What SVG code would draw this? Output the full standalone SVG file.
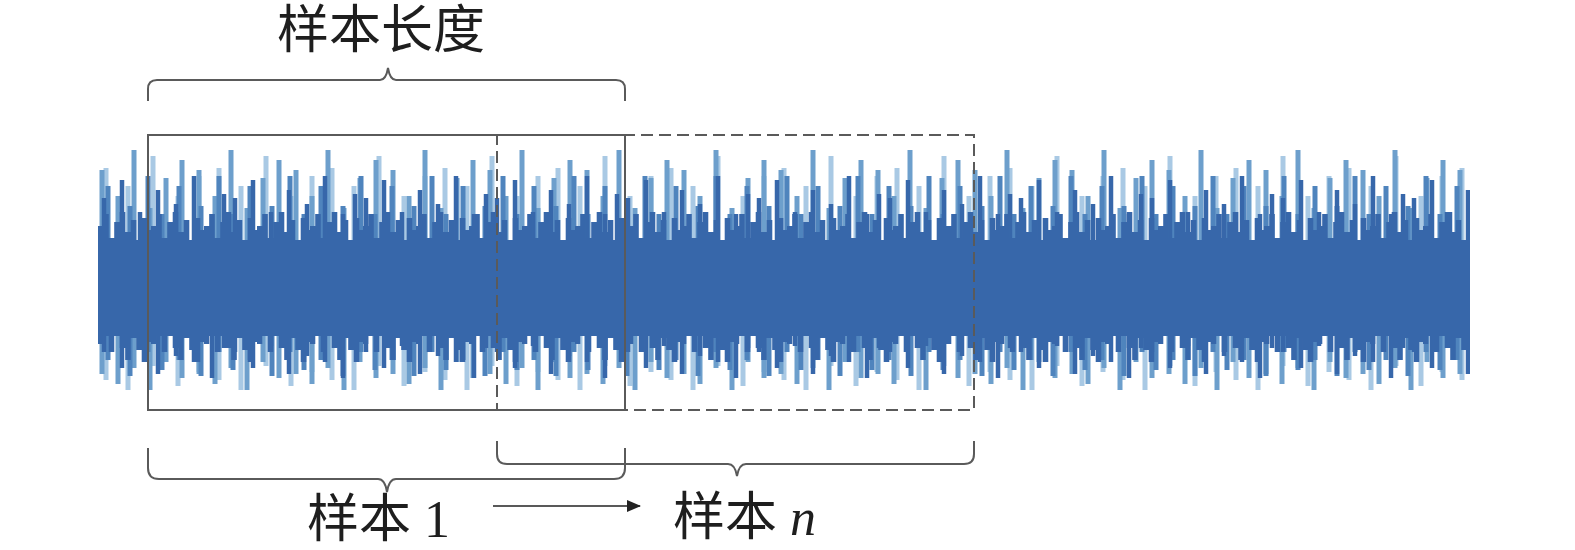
<svg xmlns="http://www.w3.org/2000/svg" width="1575" height="550" viewBox="0 0 1575 550">
<style>
.frame{fill:none;stroke:#5a5a5a;stroke-width:2}
.brace{fill:none;stroke:#5a5a5a;stroke-width:2}
.cn{font-family:"Liberation Serif","Noto Sans CJK SC",serif;font-size:52px;fill:#1e1e1e}
.lat{font-family:"Liberation Serif",serif;font-size:52px;fill:#1e1e1e}
</style>
<defs>
<pattern id="p4" patternUnits="userSpaceOnUse" x="98" y="0" width="113" height="550"><path d="M8 168V380M30 186V390M55 156V366M80 196V386M101 176V372" stroke="#a9c9e4" stroke-width="5"/></pattern>
<pattern id="p1" patternUnits="userSpaceOnUse" x="98" y="0" width="97" height="550"><path d="M4 170V374M20 196V384M36 150V368M52 208V390M68 178V362M84 160V378" stroke="#6d9fcc" stroke-width="5"/></pattern>
<pattern id="p3" patternUnits="userSpaceOnUse" x="98" y="0" width="71" height="550"><path d="M10 186V360M32 206V376M50 176V352M64 214V370" stroke="#4f84bd" stroke-width="5"/></pattern>
<pattern id="p2" patternUnits="userSpaceOnUse" x="98" y="0" width="131" height="550"><path d="M6 198V352M24 180V368M42 212V346M60 190V374M78 204V356M96 176V362M114 214V378M126 194V348" stroke="#3767aa" stroke-width="4.5"/></pattern>
<pattern id="p5" patternUnits="userSpaceOnUse" x="98" y="0" width="53" height="550"><path d="M2.5 226V344M8 214V336M13.5 238V352M19 222V334M24.5 212V348M30 232V360M35.5 220V338M41 242V350M46.5 218V362M51 230V342" stroke="#3767aa" stroke-width="5.6"/></pattern>
<marker id="ah" markerWidth="14" markerHeight="12" refX="13" refY="6" orient="auto" markerUnits="userSpaceOnUse"><path d="M0 0L14 6L0 12Z" fill="#222"/></marker>
</defs>
<g id="waveform">
<rect x="98" y="130" width="1372" height="270" fill="url(#p4)"/>
<rect x="98" y="130" width="1372" height="270" fill="url(#p1)"/>
<rect x="98" y="130" width="1372" height="270" fill="url(#p3)"/>
<rect x="98" y="130" width="1372" height="270" fill="url(#p2)"/>
<rect x="98" y="130" width="1372" height="270" fill="url(#p5)"/>
<rect x="98" y="240" width="1372" height="96" fill="#3767aa"/>
</g>
<g id="sample1-box"><rect class="frame" x="148" y="135" width="477" height="275"/></g>
<g id="samplen-box"><rect class="frame" x="497" y="135" width="477" height="275" stroke-dasharray="12 6"/></g>
<g id="length-label">
<path class="brace" d="M148 101V89Q148 80 157 80H380Q386 80 388 68Q390 80 396 80H616Q625 80 625 89V101"/>
<text class="cn" x="381" y="48" text-anchor="middle">样本长度</text>
</g>
<g id="sample1-label">
<path class="brace" d="M148 448V468Q148 479 159 479H378Q385 479 387 492Q389 479 396 479H614Q625 479 625 468V448"/>
<text x="307" y="537"><tspan class="cn">样本</tspan><tspan class="lat" dx="13">1</tspan></text>
</g>
<g id="samplen-label">
<path class="brace" d="M497 441V454Q497 464 507 464H728Q735 464 737 476Q739 464 746 464H964Q974 464 974 454V441"/>
<text x="673" y="535"><tspan class="cn">样本</tspan><tspan class="lat" dx="13" font-style="italic">n</tspan></text>
</g>
<g id="connectors">
<line x1="493" y1="506" x2="640" y2="506" stroke="#222" stroke-width="1.5" marker-end="url(#ah)"/>
</g>
</svg>
